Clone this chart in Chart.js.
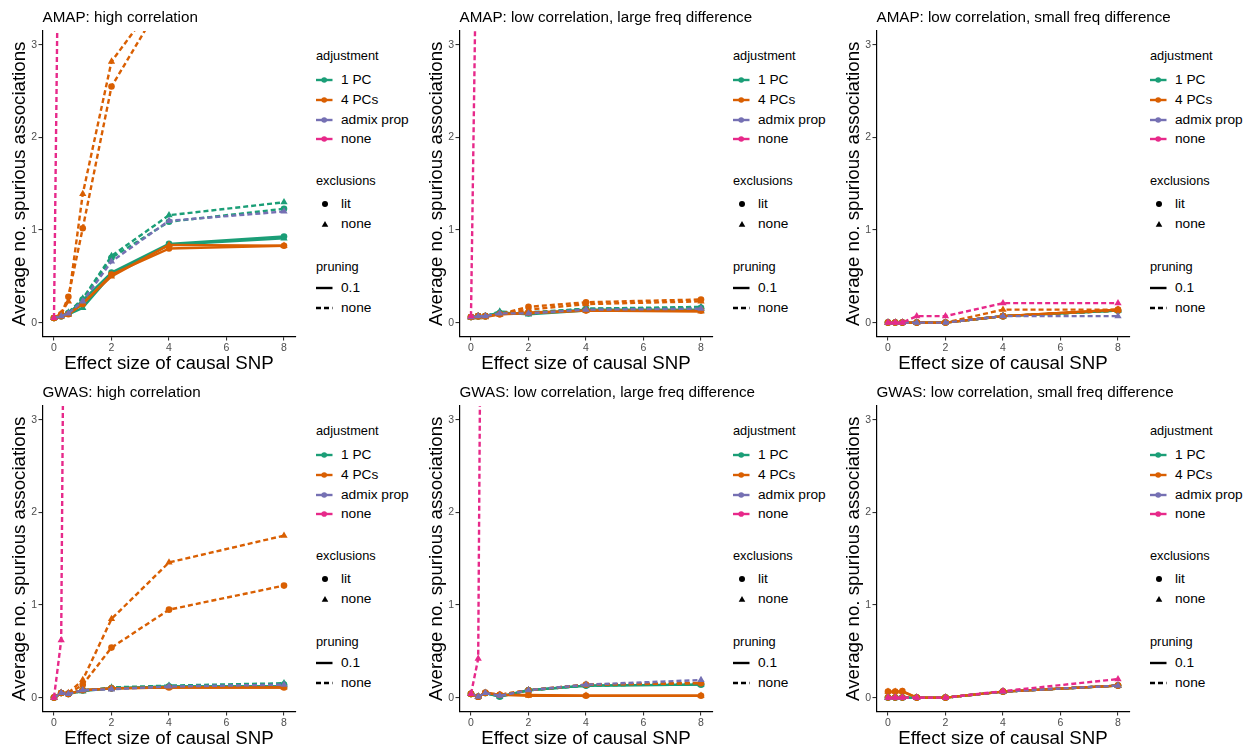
<!DOCTYPE html>
<html>
<head>
<meta charset="utf-8">
<title>Spurious associations by effect size</title>
<script src="https://cdn.jsdelivr.net/npm/chart.js@4.4.1/dist/chart.umd.min.js"></script>
<style>
  html, body { margin: 0; padding: 0; background: #ffffff; }
  #page { position: relative; width: 1251px; height: 751px; overflow: hidden;
          font-family: "Liberation Sans", Arial, sans-serif; }
  .panel { position: absolute; width: 417px; height: 375px; }
  .panel canvas { position: absolute; left: 0; top: 0; }
  .ptitle { position: absolute; left: 42.5px; top: 7.7px; font-size: 15.2px; line-height: 18px;
            white-space: nowrap; color: #000; }
  .lg { position: absolute; white-space: nowrap; color: #000; line-height: 16px; }
  .lg-title { font-size: 12.8px; }
  .lg-label { font-size: 13.7px; }
  .lg-key { position: absolute; overflow: visible; }
</style>
</head>
<body>
<div id="page"></div>
<script>
// ---- shared axes / factor levels ----
const effectSizes = [0, 0.25, 0.5, 1, 2, 4, 8];
const xTickValues = [0, 2, 4, 6, 8];
const yTickValues = [0, 1, 2, 3];
const adjustmentLevels = ['1 PC', '4 PCs', 'admix prop', 'none'];
const exclusionLevels = ['lit', 'none'];
const pruningLevels = ['0.1', 'none'];
const panelTitles = [
  'AMAP: high correlation',
  'AMAP: low correlation, large freq difference',
  'AMAP: low correlation, small freq difference',
  'GWAS: high correlation',
  'GWAS: low correlation, large freq difference',
  'GWAS: low correlation, small freq difference'
];

// series order within every panel: [adjustment, exclusions, pruning]
const seriesKeys = [
  ['1 PC', 'lit', '0.1'], ['1 PC', 'none', '0.1'], ['1 PC', 'lit', 'none'], ['1 PC', 'none', 'none'],
  ['4 PCs', 'lit', '0.1'], ['4 PCs', 'none', '0.1'], ['4 PCs', 'lit', 'none'], ['4 PCs', 'none', 'none'],
  ['admix prop', 'none', 'none'],
  ['none', 'none', 'none']
];

// ---- AMAP: high correlation ----
const amapHigh_1pc_lit_p01    = [0.05, 0.07, 0.10, 0.24, 0.54, 0.85, 0.93];
const amapHigh_1pc_none_p01   = [0.05, 0.07, 0.09, 0.16, 0.52, 0.84, 0.91];
const amapHigh_1pc_lit_unp    = [0.05, 0.07, 0.10, 0.25, 0.70, 1.09, 1.23];
const amapHigh_1pc_none_unp   = [0.05, 0.07, 0.11, 0.26, 0.72, 1.16, 1.30];
const amapHigh_4pc_lit_p01    = [0.05, 0.07, 0.09, 0.20, 0.52, 0.80, 0.83];
const amapHigh_4pc_none_p01   = [0.05, 0.07, 0.09, 0.21, 0.50, 0.84, 0.83];
const amapHigh_4pc_lit_unp    = [0.05, 0.09, 0.28, 1.02, 2.55, 3.59, 4.30];
const amapHigh_4pc_none_unp   = [0.05, 0.10, 0.23, 1.39, 2.82, 3.66, 4.40];
const amapHigh_admix_none_unp = [0.05, 0.07, 0.10, 0.23, 0.66, 1.10, 1.20];
const amapHigh_noadj_none_unp = [0.05, 7.0, 9.6, 10.4, 11.2, 11.7, 12.1];

// ---- AMAP: low correlation, large freq difference ----
const amapLarge_1pc_lit_p01    = [0.06, 0.07, 0.07, 0.10, 0.10, 0.14, 0.14];
const amapLarge_1pc_none_p01   = [0.06, 0.06, 0.07, 0.11, 0.09, 0.13, 0.13];
const amapLarge_1pc_lit_unp    = [0.06, 0.07, 0.07, 0.10, 0.11, 0.15, 0.16];
const amapLarge_1pc_none_unp   = [0.06, 0.07, 0.07, 0.12, 0.10, 0.15, 0.17];
const amapLarge_4pc_lit_p01    = [0.06, 0.07, 0.07, 0.09, 0.11, 0.13, 0.13];
const amapLarge_4pc_none_p01   = [0.06, 0.06, 0.06, 0.09, 0.10, 0.13, 0.12];
const amapLarge_4pc_lit_unp    = [0.06, 0.07, 0.07, 0.09, 0.17, 0.22, 0.25];
const amapLarge_4pc_none_unp   = [0.06, 0.07, 0.07, 0.09, 0.14, 0.20, 0.23];
const amapLarge_admix_none_unp = [0.06, 0.07, 0.07, 0.10, 0.10, 0.14, 0.15];
const amapLarge_noadj_none_unp = [0.07, 5.6, 8.1, 9.0, 9.8, 10.3, 10.6];

// ---- AMAP: low correlation, small freq difference ----
const amapSmall_1pc_lit_p01    = [0, 0, 0, 0, 0, 0.07, 0.13];
const amapSmall_1pc_none_p01   = [0, 0, 0, 0, 0, 0.07, 0.13];
const amapSmall_1pc_lit_unp    = [0, 0, 0, 0, 0, 0.07, 0.13];
const amapSmall_1pc_none_unp   = [0, 0, 0, 0, 0, 0.07, 0.13];
const amapSmall_4pc_lit_p01    = [0, 0, 0, 0, 0, 0.07, 0.14];
const amapSmall_4pc_none_p01   = [0, 0, 0, 0, 0, 0.07, 0.14];
const amapSmall_4pc_lit_unp    = [0, 0, 0, 0, 0, 0.07, 0.13];
const amapSmall_4pc_none_unp   = [0, 0, 0, 0, 0, 0.14, 0.14];
const amapSmall_admix_none_unp = [0, 0, 0, 0, 0, 0.07, 0.07];
const amapSmall_noadj_none_unp = [0, 0, 0, 0.07, 0.07, 0.21, 0.21];

// ---- GWAS: high correlation ----
const gwasHigh_1pc_lit_p01    = [0.00, 0.05, 0.04, 0.08, 0.10, 0.12, 0.12];
const gwasHigh_1pc_none_p01   = [0.00, 0.05, 0.04, 0.07, 0.10, 0.12, 0.12];
const gwasHigh_1pc_lit_unp    = [0.00, 0.05, 0.04, 0.08, 0.10, 0.12, 0.14];
const gwasHigh_1pc_none_unp   = [0.00, 0.05, 0.04, 0.07, 0.11, 0.13, 0.155];
const gwasHigh_4pc_lit_p01    = [0.00, 0.05, 0.04, 0.08, 0.10, 0.11, 0.11];
const gwasHigh_4pc_none_p01   = [0.00, 0.05, 0.04, 0.08, 0.10, 0.11, 0.11];
const gwasHigh_4pc_lit_unp    = [0.00, 0.05, 0.04, 0.14, 0.54, 0.95, 1.21];
const gwasHigh_4pc_none_unp   = [0.00, 0.05, 0.05, 0.19, 0.85, 1.46, 1.75];
const gwasHigh_admix_none_unp = [0.00, 0.05, 0.04, 0.08, 0.09, 0.12, 0.14];
const gwasHigh_noadj_none_unp = [0.00, 0.62, 11.4, 12.5, 13.2, 13.8, 14.1];

// ---- GWAS: low correlation, large freq difference ----
const gwasLarge_1pc_lit_p01    = [0.04, 0.01, 0.05, 0.01, 0.08, 0.13, 0.14];
const gwasLarge_1pc_none_p01   = [0.04, 0.01, 0.05, 0.01, 0.08, 0.13, 0.14];
const gwasLarge_1pc_lit_unp    = [0.04, 0.01, 0.05, 0.02, 0.08, 0.13, 0.15];
const gwasLarge_1pc_none_unp   = [0.04, 0.01, 0.05, 0.02, 0.08, 0.13, 0.15];
const gwasLarge_4pc_lit_p01    = [0.04, 0.01, 0.055, 0.03, 0.03, 0.02, 0.02];
const gwasLarge_4pc_none_p01   = [0.04, 0.01, 0.05, 0.03, 0.02, 0.02, 0.02];
const gwasLarge_4pc_lit_unp    = [0.04, 0.01, 0.05, 0.03, 0.08, 0.14, 0.155];
const gwasLarge_4pc_none_unp   = [0.04, 0.01, 0.05, 0.03, 0.08, 0.14, 0.16];
const gwasLarge_admix_none_unp = [0.04, 0.01, 0.05, 0.02, 0.08, 0.14, 0.19];
const gwasLarge_noadj_none_unp = [0.04, 0.42, 12.0, 12.8, 13.4, 13.9, 14.2];

// ---- GWAS: low correlation, small freq difference ----
const gwasSmall_1pc_lit_p01    = [0, 0, 0, 0, 0, 0.065, 0.13];
const gwasSmall_1pc_none_p01   = [0, 0, 0, 0, 0, 0.065, 0.13];
const gwasSmall_1pc_lit_unp    = [0, 0, 0, 0, 0, 0.065, 0.13];
const gwasSmall_1pc_none_unp   = [0, 0, 0, 0, 0, 0.065, 0.13];
const gwasSmall_4pc_lit_p01    = [0.065, 0.065, 0.07, 0, 0, 0.065, 0.13];
const gwasSmall_4pc_none_p01   = [0.065, 0.065, 0.065, 0, 0, 0.065, 0.13];
const gwasSmall_4pc_lit_unp    = [0, 0, 0, 0, 0, 0.065, 0.13];
const gwasSmall_4pc_none_unp   = [0, 0, 0, 0, 0, 0.065, 0.13];
const gwasSmall_admix_none_unp = [0, 0, 0, 0, 0, 0.065, 0.13];
const gwasSmall_noadj_none_unp = [0, 0, 0, 0, 0, 0.07, 0.20];

// values of each panel, in seriesKeys order
const panelSeries = [
  [amapHigh_1pc_lit_p01, amapHigh_1pc_none_p01, amapHigh_1pc_lit_unp, amapHigh_1pc_none_unp,
   amapHigh_4pc_lit_p01, amapHigh_4pc_none_p01, amapHigh_4pc_lit_unp, amapHigh_4pc_none_unp,
   amapHigh_admix_none_unp, amapHigh_noadj_none_unp],
  [amapLarge_1pc_lit_p01, amapLarge_1pc_none_p01, amapLarge_1pc_lit_unp, amapLarge_1pc_none_unp,
   amapLarge_4pc_lit_p01, amapLarge_4pc_none_p01, amapLarge_4pc_lit_unp, amapLarge_4pc_none_unp,
   amapLarge_admix_none_unp, amapLarge_noadj_none_unp],
  [amapSmall_1pc_lit_p01, amapSmall_1pc_none_p01, amapSmall_1pc_lit_unp, amapSmall_1pc_none_unp,
   amapSmall_4pc_lit_p01, amapSmall_4pc_none_p01, amapSmall_4pc_lit_unp, amapSmall_4pc_none_unp,
   amapSmall_admix_none_unp, amapSmall_noadj_none_unp],
  [gwasHigh_1pc_lit_p01, gwasHigh_1pc_none_p01, gwasHigh_1pc_lit_unp, gwasHigh_1pc_none_unp,
   gwasHigh_4pc_lit_p01, gwasHigh_4pc_none_p01, gwasHigh_4pc_lit_unp, gwasHigh_4pc_none_unp,
   gwasHigh_admix_none_unp, gwasHigh_noadj_none_unp],
  [gwasLarge_1pc_lit_p01, gwasLarge_1pc_none_p01, gwasLarge_1pc_lit_unp, gwasLarge_1pc_none_unp,
   gwasLarge_4pc_lit_p01, gwasLarge_4pc_none_p01, gwasLarge_4pc_lit_unp, gwasLarge_4pc_none_unp,
   gwasLarge_admix_none_unp, gwasLarge_noadj_none_unp],
  [gwasSmall_1pc_lit_p01, gwasSmall_1pc_none_p01, gwasSmall_1pc_lit_unp, gwasSmall_1pc_none_unp,
   gwasSmall_4pc_lit_p01, gwasSmall_4pc_none_p01, gwasSmall_4pc_lit_unp, gwasSmall_4pc_none_unp,
   gwasSmall_admix_none_unp, gwasSmall_noadj_none_unp]
];

// ---- styling ----
const FONT = '"Liberation Sans", Arial, sans-serif';
const adjustmentColors = { '1 PC': '#1B9E77', '4 PCs': '#D95F02', 'admix prop': '#7570B3', 'none': '#E7298A' };
const LINE_W = 2.4;
const DASH = [5, 3];
const CIRCLE_R = 3.3;
const TRIANGLE_R = 4.2;

const PANEL_W = 1251 / 3;
const PANEL_H = 375;
const CANVAS_W = 300;

Chart.defaults.font.family = FONT;

function buildDatasets(values) {
  return seriesKeys.map(([adj, excl, prune], i) => {
    const color = adjustmentColors[adj];
    return {
      label: adj + ' | ' + excl + ' | ' + prune,
      data: effectSizes.map((x, j) => ({ x: x, y: values[i][j] })),
      borderColor: color,
      backgroundColor: color,
      borderWidth: LINE_W,
      borderDash: prune === 'none' ? DASH : [],
      borderCapStyle: 'butt',
      borderJoinStyle: 'round',
      pointStyle: excl === 'lit' ? 'circle' : 'triangle',
      pointRadius: excl === 'lit' ? CIRCLE_R : TRIANGLE_R,
      pointBorderWidth: 0,
      pointBackgroundColor: color,
      pointBorderColor: color,
      tension: 0,
      clip: 0,
      order: seriesKeys.length - i
    };
  });
}

function makeChart(canvas, values) {
  return new Chart(canvas, {
    type: 'line',
    data: { datasets: buildDatasets(values) },
    options: {
      responsive: false,
      animation: false,
      devicePixelRatio: 1,
      events: [],
      layout: { padding: { left: 0, right: CANVAS_W - 295.5, top: 31, bottom: 0 } },
      plugins: {
        legend: { display: false },
        tooltip: { enabled: false },
        title: { display: false }
      },
      scales: {
        x: {
          type: 'linear', min: -0.4, max: 8.4,
          afterBuildTicks: s => { s.ticks = xTickValues.map(v => ({ value: v })); },
          afterFit: s => { s.height = 38.5; },
          grid: { display: true, drawOnChartArea: false, drawTicks: true, tickLength: 4, color: '#333333', lineWidth: 1.1 },
          border: { display: true, color: '#000000', width: 1.2 },
          ticks: { color: '#4D4D4D', font: { size: 10.5 }, padding: 1.8, maxRotation: 0, autoSkip: false },
          title: { display: true, text: 'Effect size of causal SNP', color: '#000',
                   font: { size: 18.7, lineHeight: 1.2 }, padding: { top: 0, bottom: 0.2 } }
        },
        y: {
          type: 'linear', min: -0.15, max: 3.15,
          afterBuildTicks: s => { s.ticks = yTickValues.map(v => ({ value: v })); },
          afterFit: s => { s.width = 42.5; },
          grid: { display: true, drawOnChartArea: false, drawTicks: true, tickLength: 4, color: '#333333', lineWidth: 1.1 },
          border: { display: true, color: '#000000', width: 1.2 },
          ticks: { color: '#4D4D4D', font: { size: 10.5 }, padding: 1.5, autoSkip: false },
          title: { display: true, text: 'Average no. spurious associations', color: '#000',
                   font: { size: 18.7, lineHeight: 1.2 }, padding: { top: 8.4, bottom: 0 } }
        }
      }
    }
  });
}

// ---- legend (three guides to the right of each panel) ----
const LG_LEFT = 316;
const LG_LABEL_LEFT = 341;
const SVG_NS = 'http://www.w3.org/2000/svg';

function addText(parent, text, cls, left, cy) {
  const d = document.createElement('div');
  d.className = 'lg ' + cls;
  d.textContent = text;
  d.style.left = left + 'px';
  d.style.top = (cy - 8) + 'px';
  parent.appendChild(d);
}

function addKey(parent, cy, draw) {
  const svg = document.createElementNS(SVG_NS, 'svg');
  svg.setAttribute('class', 'lg-key');
  svg.setAttribute('width', 20);
  svg.setAttribute('height', 14);
  svg.style.left = (LG_LEFT - 1) + 'px';
  svg.style.top = (cy - 7) + 'px';
  draw(svg);
  parent.appendChild(svg);
}

function svgEl(name, attrs) {
  const e = document.createElementNS(SVG_NS, name);
  for (const k in attrs) e.setAttribute(k, attrs[k]);
  return e;
}

function trianglePath(cx, cy, r) {
  const pts = [0, 1, 2].map(k => {
    const a = k * 2 * Math.PI / 3;
    return (cx + Math.sin(a) * r).toFixed(2) + ',' + (cy - Math.cos(a) * r).toFixed(2);
  });
  return pts.join(' ');
}

function buildLegend(parent) {
  addText(parent, 'adjustment', 'lg-title', LG_LEFT, 56);
  adjustmentLevels.forEach((lvl, i) => {
    const cy = 80 + i * 19.8;
    const c = adjustmentColors[lvl];
    addKey(parent, cy, svg => {
      svg.appendChild(svgEl('line', { x1: 1, y1: 7, x2: 17.5, y2: 7, stroke: c, 'stroke-width': LINE_W }));
      svg.appendChild(svgEl('circle', { cx: 9.2, cy: 7, r: 2.8, fill: c }));
    });
    addText(parent, lvl, 'lg-label', LG_LABEL_LEFT, cy);
  });

  addText(parent, 'exclusions', 'lg-title', LG_LEFT, 180.7);
  exclusionLevels.forEach((lvl, i) => {
    const cy = 204 + i * 20;
    addKey(parent, cy, svg => {
      if (lvl === 'lit') svg.appendChild(svgEl('circle', { cx: 10, cy: 7, r: 3, fill: '#000' }));
      else svg.appendChild(svgEl('polygon', { points: trianglePath(10, 7.8, 3.8), fill: '#000' }));
    });
    addText(parent, lvl, 'lg-label', LG_LABEL_LEFT, cy);
  });

  addText(parent, 'pruning', 'lg-title', LG_LEFT, 266.5);
  pruningLevels.forEach((lvl, i) => {
    const cy = 288.3 + i * 20;
    addKey(parent, cy, svg => {
      const attrs = { x1: 1, y1: 7, x2: 17.5, y2: 7, stroke: '#000', 'stroke-width': LINE_W };
      if (lvl === 'none') attrs['stroke-dasharray'] = DASH.join(' ');
      svg.appendChild(svgEl('line', attrs));
    });
    addText(parent, lvl, 'lg-label', LG_LABEL_LEFT, cy);
  });
}

// ---- lay out the 3 x 2 grid ----
const page = document.getElementById('page');
panelTitles.forEach((title, p) => {
  const col = p % 3, row = Math.floor(p / 3);
  const panel = document.createElement('div');
  panel.className = 'panel';
  panel.style.left = (col * PANEL_W) + 'px';
  panel.style.top = (row * PANEL_H) + 'px';
  const canvas = document.createElement('canvas');
  canvas.width = CANVAS_W;
  canvas.height = PANEL_H;
  canvas.style.width = CANVAS_W + 'px';
  canvas.style.height = PANEL_H + 'px';
  panel.appendChild(canvas);
  const t = document.createElement('div');
  t.className = 'ptitle';
  t.textContent = title;
  panel.appendChild(t);
  buildLegend(panel);
  page.appendChild(panel);
  makeChart(canvas, panelSeries[p]);
});
</script>
</body>
</html>
